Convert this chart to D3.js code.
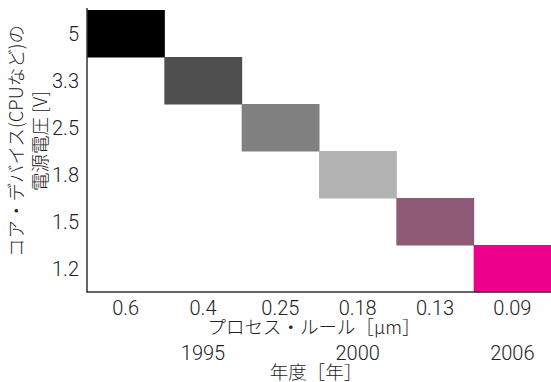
<!DOCTYPE html>
<html><head><meta charset="utf-8">
<script src="https://cdn.jsdelivr.net/npm/d3@7"></script>
<style>body{margin:0;background:#fff}svg text{font-family:Roboto,"Liberation Sans","Noto Sans CJK JP",sans-serif;font-weight:300;fill:#222}
.jp{font-family:"Noto Sans CJK JP","Liberation Sans",sans-serif;font-weight:300}</style>
</head><body><svg id="c" width="551" height="382"></svg>
<script>
const processRules = ["0.6","0.4","0.25","0.18","0.13","0.09"];
const voltages = ["5","3.3","2.5","1.8","1.5","1.2"];
const cellColors = ["#000000","#4f4f4f","#808080","#b3b3b3","#8f5a75","#ec008c"];
const years = ["1995","2000","2006"];
const yearAt = ["0.4","0.18","0.09"];
const cells = processRules.map((p,i)=>({p, v: voltages[i], c: cellColors[i]}));

const svg = d3.select("#c");
const x = d3.scaleBand().domain(processRules).range([87,551]);
const y = d3.scaleBand().domain(voltages).range([10,292]);

svg.selectAll("rect.cell").data(cells).join("rect")
  .attr("x", d=>x(d.p)).attr("y", d=>y(d.v))
  .attr("width", x.bandwidth()+0.5).attr("height", y.bandwidth()+0.5)
  .attr("fill", d=>d.c);

svg.append("line").attr("x1",87).attr("x2",87).attr("y1",8).attr("y2",292.5).attr("stroke","#333").attr("stroke-width",1.5);
svg.append("line").attr("x1",86.5).attr("x2",551).attr("y1",292).attr("y2",292).attr("stroke","#333").attr("stroke-width",1.5);

const fs = 20, jfs = 18.5;
svg.selectAll("text.yt").data(voltages).join("text")
  .attr("x",79).attr("y",d=>y(d)+y.bandwidth()/2).attr("dy","0.35em")
  .attr("text-anchor","end").attr("font-size",fs).text(d=>d);

svg.selectAll("text.xt").data(processRules).join("text")
  .attr("x",d=>x(d)+x.bandwidth()/2).attr("y",307.5).attr("dy","0.35em")
  .attr("text-anchor","middle").attr("font-size",fs).text(d=>d);

svg.append("text").attr("class","jp").attr("x",314).attr("y",327.5).attr("dy","0.35em").attr("text-anchor","middle").attr("font-size",jfs).text("プロセス・ルール［μm］");

svg.selectAll("text.yr").data(years).join("text")
  .attr("x",(d,i)=>x(yearAt[i])+x.bandwidth()/2).attr("y",353).attr("dy","0.35em")
  .attr("text-anchor","middle").attr("font-size",fs).text(d=>d);

svg.append("text").attr("class","jp").attr("x",316).attr("y",372.5).attr("dy","0.35em").attr("text-anchor","middle").attr("font-size",jfs).text("年度［年］");

const yt = svg.append("text").attr("class","jp").attr("transform","translate(17,141) rotate(-90)").attr("text-anchor","middle").attr("font-size",18.5);
yt.append("tspan").attr("x",0).attr("dy","0.35em").text("コア・デバイス(CPUなど)の");
yt.append("tspan").attr("x",0).attr("dy","1.25em").text("電源電圧 [V]");
</script></body></html>
